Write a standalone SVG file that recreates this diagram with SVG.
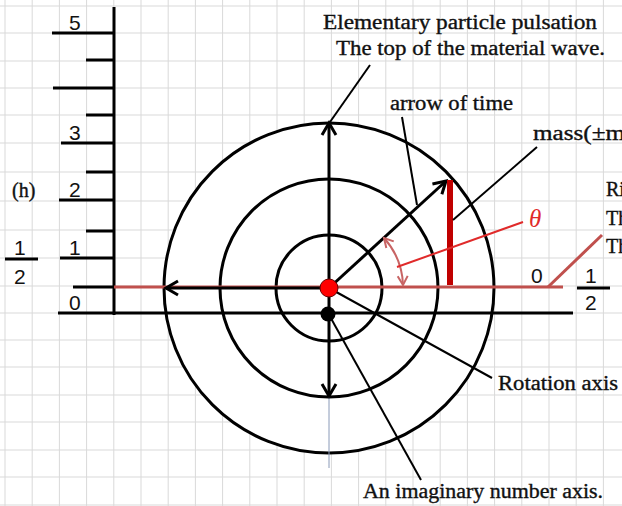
<svg xmlns="http://www.w3.org/2000/svg" width="622" height="506" viewBox="0 0 622 506">
<style>
.grid{stroke:#d9d9d9;stroke-width:1;fill:none}
.ax{stroke:#000;stroke-width:3;fill:none}
.thin{stroke:#000;stroke-width:2;fill:none}
.rl{stroke:#c0504d;stroke-width:3;fill:none}
.t{font-family:"Liberation Serif","DejaVu Serif",serif;font-size:20px;fill:#111;stroke:#111;stroke-width:0.35}
.d{font-family:"Liberation Sans","DejaVu Sans",sans-serif;font-size:21px;fill:#111}
</style>
<defs>
<marker id="ah" markerUnits="userSpaceOnUse" markerWidth="16" markerHeight="16" refX="13" refY="8" orient="auto" overflow="visible">
<path d="M1,1 L13,8 L1,15" fill="none" stroke="#000" stroke-width="3"/>
</marker>
<marker id="rh" markerUnits="userSpaceOnUse" markerWidth="12" markerHeight="12" refX="10" refY="6" orient="auto-start-reverse" overflow="visible">
<path d="M1,1 L10,6 L1,11" fill="none" stroke="#c86464" stroke-width="2"/>
</marker>
</defs>
<rect width="622" height="506" fill="#fff"/>
<g id="grid" class="grid">
<path d="M5,0V506M32.2,0V506M59.4,0V506M86.6,0V506M113.8,0V506M141,0V506M168.2,0V506M195.4,0V506M222.6,0V506M249.8,0V506M277,0V506M304.2,0V506M331.4,0V506M358.6,0V506M385.8,0V506M413,0V506M440.2,0V506M467.4,0V506M494.6,0V506M521.8,0V506M549,0V506M576.2,0V506M603.4,0V506"/>
<path d="M0,6H622M0,33H622M0,61H622M0,88H622M0,115H622M0,143H622M0,172H622M0,201H622M0,230H622M0,258H622M0,286H622M0,313H622M0,340H622M0,367H622M0,395H622M0,422H622M0,450H622M0,477H622M0,505H622"/>
</g>
<g id="scale">
<line class="ax" x1="114" y1="7" x2="114" y2="315"/>
<path class="ax" d="M52,33H114M86,60H114M53,88H114M86,115H114M61,143H114M86,172H114M59,200H114M86,231H114M60,258H114M73,287H114"/>
<text class="d" x="69" y="30">5</text>
<text class="d" x="69" y="140">3</text>
<text class="d" x="69" y="197">2</text>
<text class="d" x="69" y="255">1</text>
<text class="d" x="69" y="310">0</text>
<text class="t" x="12" y="197" font-size="17">(h)</text>
<text class="d" x="14" y="255">1</text>
<line class="ax" x1="5" y1="259" x2="38" y2="259"/>
<text class="d" x="14" y="284">2</text>
</g>
<g id="circles">
<circle cx="329" cy="288" r="165" fill="#fff" stroke="#000" stroke-width="3"/>
<circle cx="329" cy="288" r="109" class="ax"/>
<circle cx="329" cy="288" r="53" class="ax"/>
</g>
<g id="connectors">
<line class="ax" x1="58" y1="313" x2="573" y2="313"/>
<line class="rl" x1="114" y1="287" x2="563" y2="287"/>
<line class="rl" x1="548" y1="287" x2="602" y2="235"/>
<line x1="329" y1="396" x2="329" y2="468" stroke="#8a9ab8" stroke-width="1"/>
<line class="ax" x1="329" y1="288" x2="166" y2="288" marker-end="url(#ah)"/>
<line class="ax" x1="329" y1="288" x2="329" y2="123" marker-end="url(#ah)"/>
<line class="ax" x1="329" y1="288" x2="329" y2="396" marker-end="url(#ah)"/>
<line class="ax" x1="329" y1="288" x2="446" y2="181" marker-end="url(#ah)"/>
<line x1="450" y1="180" x2="450" y2="285" stroke="#c00000" stroke-width="6"/>
<path d="M384,238 A74,74 0 0 1 403,285" fill="none" stroke="#c86464" stroke-width="2" marker-start="url(#rh)" marker-end="url(#rh)"/>
<line x1="397" y1="267" x2="523" y2="222" stroke="#e02a2a" stroke-width="2"/>
<line class="thin" x1="330" y1="122" x2="370" y2="65"/>
<line class="thin" x1="402" y1="117" x2="417" y2="205"/>
<line class="thin" x1="537" y1="147" x2="453" y2="220"/>
<line class="thin" x1="329" y1="288" x2="492" y2="378"/>
<line class="thin" x1="328" y1="313" x2="421" y2="480"/>
</g>
<g id="dots">
<circle cx="328" cy="314" r="7.5" fill="#000"/>
<circle cx="329" cy="288" r="9" fill="#f00" stroke="#600" stroke-width="1"/>
</g>
<g id="labels">
<text class="t" x="323" y="29" textLength="274" lengthAdjust="spacingAndGlyphs">Elementary particle pulsation</text>
<text class="t" x="336" y="55" textLength="269" lengthAdjust="spacingAndGlyphs">The top of the material wave.</text>
<text class="t" x="390" y="110" textLength="123" lengthAdjust="spacingAndGlyphs">arrow of time</text>
<text class="t" x="533" y="140" textLength="92" lengthAdjust="spacingAndGlyphs">mass(±m</text>
<text class="t" x="606" y="196">Ri</text>
<text class="t" x="606" y="225">Th</text>
<text class="t" x="606" y="253">Th</text>
<text class="t" x="498" y="390" textLength="120" lengthAdjust="spacingAndGlyphs">Rotation axis</text>
<text class="t" x="363" y="498" textLength="240" lengthAdjust="spacingAndGlyphs">An imaginary number axis.</text>
<text x="529" y="227" font-family="Liberation Serif,serif" font-size="25" font-style="italic" fill="#e02a2a">θ</text>
<text class="d" x="531" y="283">0</text>
<text class="d" x="585" y="283">1</text>
<line class="ax" x1="577" y1="288" x2="610" y2="288"/>
<text class="d" x="585" y="310">2</text>
</g>
</svg>
